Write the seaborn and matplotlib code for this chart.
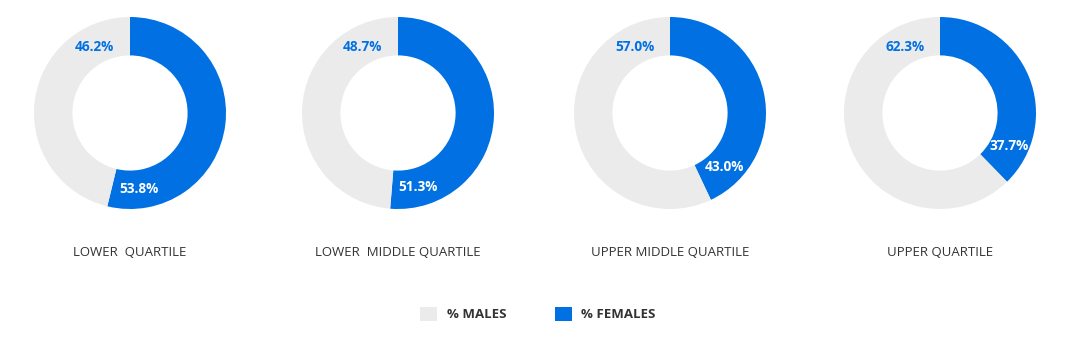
import numpy as np
import matplotlib
matplotlib.use("Agg")
import matplotlib.pyplot as plt
import seaborn as sns
from matplotlib.patches import Patch

quartiles = ["LOWER  QUARTILE", "LOWER  MIDDLE QUARTILE", "UPPER MIDDLE QUARTILE", "UPPER QUARTILE"]
females = [53.8, 51.3, 43.0, 37.7]
males = [46.2, 48.7, 57.0, 62.3]
series = ["% MALES", "% FEMALES"]

sns.set_theme(style="white")
plt.rcParams['font.family'] = ['Open Sans', 'DejaVu Sans']

grey = "#EBEBEB"
blue = "#0070E3"
text_dark = "#333333"

W, H = 1071, 339
fig = plt.figure(figsize=(W / 100, H / 100), dpi=100)
fig.patch.set_facecolor("white")

centers_x = [130, 398, 670, 940]
cy = 113
R = 96
box = 200

for i, (q, f, m) in enumerate(zip(quartiles, females, males)):
    cx = centers_x[i]
    ax = fig.add_axes([(cx - box / 2) / W, (H - cy - box / 2) / H, box / W, box / H])
    lim = box / 2 / R
    ax.pie([f, m], colors=[blue, grey], startangle=90, counterclock=False,
           radius=1.0, wedgeprops=dict(width=0.4, edgecolor="none", linewidth=0))
    ax.set_xlim(-lim, lim)
    ax.set_ylim(-lim, lim)
    ax.set_aspect("equal")
    ax.axis("off")
    r = 0.8
    # female label inside the female segment, just before its end
    end = f / 100 * 360
    ang = np.deg2rad(end - 20)
    ax.text(r * np.sin(ang), r * np.cos(ang), f"{f:.1f}%", color="white",
            fontsize=9.8, fontweight="bold", ha="center", va="center")
    # male label near top-left
    ang = np.deg2rad(360 - 28)
    ax.text(0.78 * np.sin(ang), 0.78 * np.cos(ang), f"{m:.1f}%", color=blue,
            fontsize=9.8, fontweight="bold", ha="center", va="center")
    fig.text(cx / W, 1 - 252 / H, q, ha="center", va="center", fontsize=9.5, color=text_dark)

handles = [Patch(facecolor=grey, edgecolor="none", label=series[0]),
           Patch(facecolor=blue, edgecolor="none", label=series[1])]
leg = fig.legend(handles=handles, loc="center", bbox_to_anchor=(538 / W, 1 - 314 / H),
                 ncol=2, frameon=False, handlelength=1.3, handleheight=1.3,
                 columnspacing=3.7, handletextpad=0.7,
                 prop=dict(family=['Open Sans', 'DejaVu Sans'], weight="bold", size=9.5))
for t in leg.get_texts():
    t.set_color(text_dark)

fig.savefig("out.png", dpi=100, facecolor="white")
